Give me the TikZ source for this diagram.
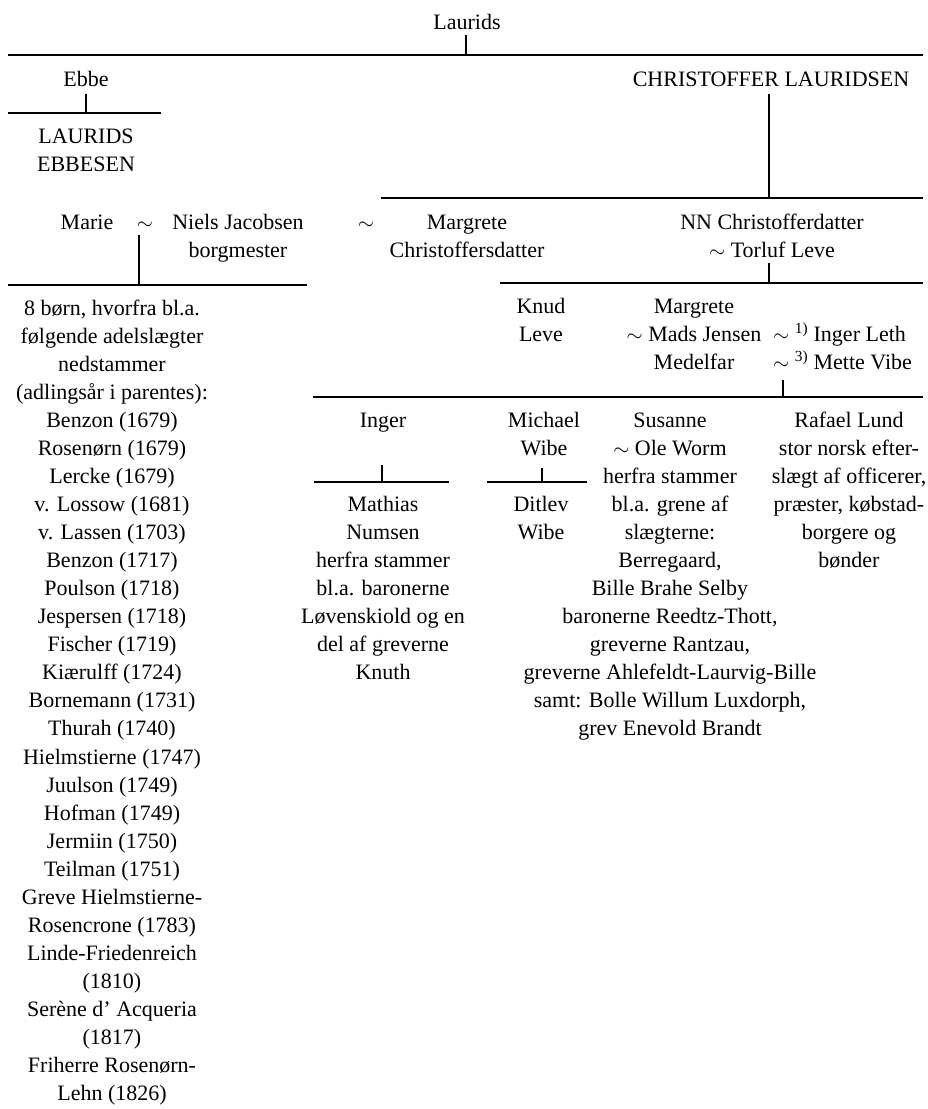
\documentclass[tikz,border=0pt]{standalone}
\usepackage{fontspec}
\setmainfont{Liberation Serif}
\begin{document}
\begin{tikzpicture}[x=1pt,y=-1pt,
  t/.style={anchor=north,inner sep=0pt,align=center,yshift=19.64pt,
            font=\fontsize{22}{28.05}\selectfont},
  rule/.style={line width=1.4pt,line cap=butt}]
\useasboundingbox (0,0) rectangle (927,1109);
% ---- generation 1
\node[t] (laurids) at (467,29) {\strut Laurids};
\coordinate (g1l) at (8,55);
\coordinate (g1r) at (923,55);
\coordinate (g1t) at (466,35);
\draw[rule] (g1l) -- (g1r);
\draw[rule] (g1t) -- (g1t |- g1l);
% ---- generation 2
\node[t] (ebbe) at (86,86) {\strut Ebbe};
\node[t] (chris) at (771,86) {\strut CHRISTOFFER LAURIDSEN};
\coordinate (eb1) at (86,94);
\coordinate (eb2) at (86,113);
\coordinate (ebl) at (8,113);
\coordinate (ebr) at (161,113);
\draw[rule] (eb1) -- (eb2);
\draw[rule] (ebl) -- (ebr);
\node[t] (lauridse) at (86,143) {\strut LAURIDS\\EBBESEN};
\coordinate (ch1) at (769,94);
\coordinate (ch2) at (769,198);
\coordinate (chl) at (381,198);
\coordinate (chr) at (923,198);
\draw[rule] (ch1) -- (ch2);
\draw[rule] (chl) -- (chr);
% ---- generation 3
\node[t] (marie) at (87,229) {\strut Marie};
\node[t] (til1) at (145,229) {\strut $\sim$};
\node[t] (niels) at (238,229) {\strut Niels Jacobsen\\borgmester};
\node[t] (til2) at (366,229) {\strut $\sim$};
\node[t] (margrete) at (467,229) {\strut Margrete\\Christoffersdatter};
\node[t] (nn) at (772,229) {\strut NN Christofferdatter\\$\sim$ Torluf Leve};
\coordinate (m1) at (139,235);
\coordinate (m2) at (139,285);
\coordinate (ml) at (8,285);
\coordinate (mr) at (307,285);
\draw[rule] (m1) -- (m2);
\draw[rule] (ml) -- (mr);
\coordinate (n1) at (769,263);
\coordinate (n2) at (769,283);
\coordinate (nl) at (500,283);
\coordinate (nr) at (923,283);
\draw[rule] (n1) -- (n2);
\draw[rule] (nl) -- (nr);
% ---- left column
\node[t] (children) at (112,315) {\strut 8 børn, hvorfra bl.a.\\følgende adelslægter\\nedstammer\\(adlingsår i parentes):\\Benzon (1679)\\Rosenørn (1679)\\Lercke (1679)\\v. Lossow (1681)\\v. Lassen (1703)\\Benzon (1717)\\Poulson (1718)\\Jespersen (1718)\\Fischer (1719)\\Kiærulff (1724)\\Bornemann (1731)\\Thurah (1740)\\Hielmstierne (1747)\\Juulson (1749)\\Hofman (1749)\\Jermiin (1750)\\Teilman (1751)\\Greve Hielmstierne-\\Rosencrone (1783)\\Linde-Friedenreich\\(1810)\\Serène d’ Acqueria\\(1817)\\Friherre Rosenørn-\\Lehn (1826)};
% ---- generation 4
\node[t] (knud) at (541,313) {\strut Knud\\Leve};
\node[t] (margrete2) at (694,313) {\strut Margrete\\$\sim$ Mads Jensen\\Medelfar};
\node[t,anchor=north west,align=left] (wives) at (773,341) {\strut $\sim$ \textsuperscript{1)} Inger Leth\\$\sim$ \textsuperscript{3)} Mette Vibe};
\coordinate (w1) at (783,380);
\coordinate (w2) at (783,397);
\coordinate (wl) at (313,397);
\coordinate (wr) at (923,397);
\draw[rule] (w1) -- (w2);
\draw[rule] (wl) -- (wr);
% ---- generation 5
\node[t] (inger) at (383,427) {\strut Inger};
\node[t] (michael) at (544,427) {\strut Michael\\Wibe};
\node[t] (susanne) at (670,427) {\strut Susanne\\$\sim$ Ole Worm\\herfra stammer\\bl.a. grene af\\slægterne:\\Berregaard,\\Bille Brahe Selby\\baronerne Reedtz-Thott,\\greverne Rantzau,\\greverne Ahlefeldt-Laurvig-Bille\\samt: Bolle Willum Luxdorph,\\grev Enevold Brandt};
\node[t] (rafael) at (849,427) {\strut Rafael Lund\\stor norsk efter-\\slægt af officerer,\\præster, købstad-\\borgere og\\bønder};
\coordinate (i1) at (382,465);
\coordinate (i2) at (382,482);
\coordinate (il) at (314,482);
\coordinate (ir) at (449,482);
\draw[rule] (i1) -- (i2);
\draw[rule] (il) -- (ir);
\coordinate (mi1) at (542,468);
\coordinate (mi2) at (542,482);
\coordinate (mil) at (487,482);
\coordinate (mir) at (587,482);
\draw[rule] (mi1) -- (mi2);
\draw[rule] (mil) -- (mir);
% ---- generation 6
\node[t] (mathias) at (383,511) {\strut Mathias\\Numsen\\herfra stammer\\bl.a. baronerne\\Løvenskiold og en\\del af greverne\\Knuth};
\node[t] (ditlev) at (541,511) {\strut Ditlev\\Wibe};
\end{tikzpicture}
\end{document}
